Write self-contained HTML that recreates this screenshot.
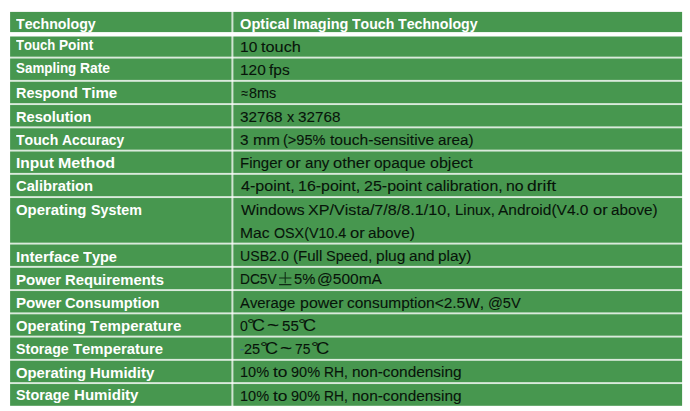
<!DOCTYPE html>
<html><head><meta charset="utf-8"><title>Specifications</title>
<style>
html,body{margin:0;padding:0;background:#fff;}
body{width:690px;height:411px;overflow:hidden;position:relative;font-family:"Liberation Sans",sans-serif;font-kerning:none;}
#grid{position:absolute;left:0;top:0;}
.c{position:absolute;left:0;top:0;margin:0;}
.w{position:absolute;white-space:nowrap;line-height:1;transform-origin:0 0;display:block;font-family:"Liberation Sans",sans-serif;font-weight:normal;-webkit-text-stroke:0.1px currentColor;}
.b .w{font-weight:bold;-webkit-text-stroke:0;}
</style></head><body>

<svg id="grid" width="690" height="411" viewBox="0 0 690 411">
<rect x="10.1" y="11.9" width="672" height="393.9" fill="#47974f"/>
<rect x="10" y="32.1" width="673" height="4.4" fill="#fff"/>
<rect x="10" y="56.65" width="673" height="1.9" fill="#fff" fill-opacity="0.8"/>
<rect x="10" y="79.90" width="673" height="1.9" fill="#fff" fill-opacity="0.8"/>
<rect x="10" y="103.15" width="673" height="1.9" fill="#fff" fill-opacity="0.8"/>
<rect x="10" y="126.40" width="673" height="1.9" fill="#fff" fill-opacity="0.8"/>
<rect x="10" y="149.65" width="673" height="1.9" fill="#fff" fill-opacity="0.8"/>
<rect x="10" y="172.90" width="673" height="1.9" fill="#fff" fill-opacity="0.8"/>
<rect x="10" y="196.15" width="673" height="1.9" fill="#fff" fill-opacity="0.8"/>
<rect x="10" y="242.65" width="673" height="1.9" fill="#fff" fill-opacity="0.8"/>
<rect x="10" y="265.90" width="673" height="1.9" fill="#fff" fill-opacity="0.8"/>
<rect x="10" y="289.15" width="673" height="1.9" fill="#fff" fill-opacity="0.8"/>
<rect x="10" y="312.40" width="673" height="1.9" fill="#fff" fill-opacity="0.8"/>
<rect x="10" y="335.65" width="673" height="1.9" fill="#fff" fill-opacity="0.8"/>
<rect x="10" y="358.90" width="673" height="1.9" fill="#fff" fill-opacity="0.8"/>
<rect x="10" y="382.15" width="673" height="1.9" fill="#fff" fill-opacity="0.8"/>
<rect x="231.4" y="11" width="2.0" height="396" fill="#fff" fill-opacity="0.74"/>
<g stroke="#0f2a14" stroke-width="1.05" fill="none"><path d="M279.1 277.9H291.4M285.2 272.0V283.3M279.1 284.6H291.4"/></g>
</svg>
<div class="c b"><span id="L0_0" class="w" style="left:16.27px;top:16px;font-size:15.30px;color:#fff;transform:scaleX(0.9286)">Technology</span></div>
<div class="c b"><span id="V0_0" class="w" style="left:239.85px;top:16px;font-size:15.30px;color:#fff;transform:scaleX(0.9563)">Optical</span><span id="V0_1" class="w" style="left:293.22px;top:16px;font-size:15.30px;color:#fff;transform:scaleX(0.9430)">Imaging</span><span id="V0_2" class="w" style="left:352.31px;top:16px;font-size:15.30px;color:#fff;transform:scaleX(0.9207)">Touch</span><span id="V0_3" class="w" style="left:398.34px;top:16px;font-size:15.30px;color:#fff;transform:scaleX(0.9278)">Technology</span></div>
<div class="c b"><span id="L1_0" class="w" style="left:16.27px;top:38px;font-size:14.10px;color:#fff;transform:scaleX(0.9284)">Touch</span><span id="L1_1" class="w" style="left:59.04px;top:38px;font-size:14.10px;color:#fff;transform:scaleX(0.9707)">Point</span></div>
<div class="c"><span id="V1_0" class="w" style="left:239.91px;top:40px;font-size:14.70px;color:#07140a;transform:scaleX(1.0585)">10</span><span id="V1_1" class="w" style="left:261.06px;top:40px;font-size:14.70px;color:#07140a;transform:scaleX(1.1085)">touch</span></div>
<div class="c b"><span id="L2_0" class="w" style="left:16.17px;top:61px;font-size:14.10px;color:#fff;transform:scaleX(0.9501)">Sampling</span><span id="L2_1" class="w" style="left:80.01px;top:61px;font-size:14.10px;color:#fff;transform:scaleX(0.9845)">Rate</span></div>
<div class="c"><span id="V2_0" class="w" style="left:239.92px;top:63px;font-size:14.70px;color:#07140a;transform:scaleX(1.0501)">120</span><span id="V2_1" class="w" style="left:269.49px;top:63px;font-size:14.70px;color:#07140a;transform:scaleX(1.0547)">fps</span></div>
<div class="c b"><span id="L3_0" class="w" style="left:15.92px;top:85px;font-size:15.30px;color:#fff;transform:scaleX(0.9454)">Respond</span><span id="L3_1" class="w" style="left:81.67px;top:85px;font-size:15.30px;color:#fff;transform:scaleX(0.9865)">Time</span></div>
<div class="c"><span id="V3_0" class="w" style="left:240.88px;top:86px;font-size:14.70px;color:#07140a;transform:scaleX(0.8473)">≈</span><span id="V3_1" class="w" style="left:248.62px;top:86px;font-size:14.70px;color:#07140a;transform:scaleX(0.9816)">8ms</span></div>
<div class="c b"><span id="L4_0" class="w" style="left:15.89px;top:109px;font-size:15.10px;color:#fff;transform:scaleX(0.9685)">Resolution</span></div>
<div class="c"><span id="V4_0" class="w" style="left:240.23px;top:110px;font-size:14.70px;color:#07140a;transform:scaleX(1.0401)">32768</span><span id="V4_1" class="w" style="left:286.50px;top:110px;font-size:14.70px;color:#07140a;transform:scaleX(0.9881)">x</span><span id="V4_2" class="w" style="left:297.55px;top:110px;font-size:14.70px;color:#07140a;transform:scaleX(1.0401)">32768</span></div>
<div class="c b"><span id="L5_0" class="w" style="left:16.27px;top:132px;font-size:15.10px;color:#fff;transform:scaleX(0.9332)">Touch</span><span id="L5_1" class="w" style="left:62.31px;top:132px;font-size:15.10px;color:#fff;transform:scaleX(0.9159)">Accuracy</span></div>
<div class="c"><span id="V5_0" class="w" style="left:240.23px;top:133px;font-size:14.70px;color:#07140a;transform:scaleX(1.0438)">3</span><span id="V5_1" class="w" style="left:252.56px;top:133px;font-size:14.70px;color:#07140a;transform:scaleX(1.0980)">mm</span><span id="V5_2" class="w" style="left:283.25px;top:133px;font-size:14.70px;color:#07140a;transform:scaleX(0.9928)">(&gt;95%</span><span id="V5_3" class="w" style="left:329.62px;top:133px;font-size:14.70px;color:#07140a;transform:scaleX(1.0628)">touch-sensitive</span><span id="V5_4" class="w" style="left:437.54px;top:133px;font-size:14.70px;color:#07140a;transform:scaleX(1.0341)">area)</span></div>
<div class="c b"><span id="L6_0" class="w" style="left:15.82px;top:155px;font-size:15.10px;color:#fff;transform:scaleX(1.0302)">Input</span><span id="L6_1" class="w" style="left:57.68px;top:155px;font-size:15.10px;color:#fff;transform:scaleX(1.0619)">Method</span></div>
<div class="c"><span id="V6_0" class="w" style="left:239.99px;top:156px;font-size:14.70px;color:#07140a;transform:scaleX(1.0204)">Finger</span><span id="V6_1" class="w" style="left:286.27px;top:156px;font-size:14.70px;color:#07140a;transform:scaleX(1.1259)">or</span><span id="V6_2" class="w" style="left:304.77px;top:156px;font-size:14.70px;color:#07140a;transform:scaleX(1.0326)">any</span><span id="V6_3" class="w" style="left:333.03px;top:156px;font-size:14.70px;color:#07140a;transform:scaleX(1.1201)">other</span><span id="V6_4" class="w" style="left:374.33px;top:156px;font-size:14.70px;color:#07140a;transform:scaleX(1.0546)">opaque</span><span id="V6_5" class="w" style="left:429.81px;top:156px;font-size:14.70px;color:#07140a;transform:scaleX(1.0907)">object</span></div>
<div class="c b"><span id="L7_0" class="w" style="left:16.35px;top:178px;font-size:15.10px;color:#fff;transform:scaleX(0.9773)">Calibration</span></div>
<div class="c"><span id="V7_0" class="w" style="left:240.58px;top:179px;font-size:14.70px;color:#07140a;transform:scaleX(1.0945)">4-point,</span><span id="V7_1" class="w" style="left:297.99px;top:179px;font-size:14.70px;color:#07140a;transform:scaleX(1.0865)">16-point,</span><span id="V7_2" class="w" style="left:363.89px;top:179px;font-size:14.70px;color:#07140a;transform:scaleX(1.0915)">25-point</span><span id="V7_3" class="w" style="left:425.61px;top:179px;font-size:14.70px;color:#07140a;transform:scaleX(1.0791)">calibration,</span><span id="V7_4" class="w" style="left:506.04px;top:179px;font-size:14.70px;color:#07140a;transform:scaleX(1.0775)">no</span><span id="V7_5" class="w" style="left:527.44px;top:179px;font-size:14.70px;color:#07140a;transform:scaleX(1.1916)">drift</span></div>
<div class="c b"><span id="L8_0" class="w" style="left:16.33px;top:202px;font-size:15.10px;color:#fff;transform:scaleX(0.9884)">Operating</span><span id="L8_1" class="w" style="left:90.61px;top:202px;font-size:15.10px;color:#fff;transform:scaleX(0.9471)">System</span></div>
<div class="c"><span id="V8_0" class="w" style="left:240.69px;top:203px;font-size:14.70px;color:#07140a;transform:scaleX(1.0693)">Windows</span><span id="V8_1" class="w" style="left:308.20px;top:203px;font-size:14.70px;color:#07140a;transform:scaleX(1.0988)">XP/Vista/7/8/8.1/10,</span><span id="V8_2" class="w" style="left:454.64px;top:203px;font-size:14.70px;color:#07140a;transform:scaleX(1.0184)">Linux,</span><span id="V8_3" class="w" style="left:498.36px;top:203px;font-size:14.70px;color:#07140a;transform:scaleX(1.0547)">Android(V4.0</span><span id="V8_4" class="w" style="left:592.57px;top:203px;font-size:14.70px;color:#07140a;transform:scaleX(1.1240)">or</span><span id="V8_5" class="w" style="left:611.04px;top:203px;font-size:14.70px;color:#07140a;transform:scaleX(1.0388)">above)</span></div>
<div class="c"><span id="V9_0" class="w" style="left:240.13px;top:226px;font-size:14.70px;color:#07140a;transform:scaleX(1.0669)">Mac</span><span id="V9_1" class="w" style="left:273.54px;top:226px;font-size:14.70px;color:#07140a;transform:scaleX(0.9714)">OSX(V10.4</span><span id="V9_2" class="w" style="left:349.53px;top:226px;font-size:14.70px;color:#07140a;transform:scaleX(1.1301)">or</span><span id="V9_3" class="w" style="left:368.10px;top:226px;font-size:14.70px;color:#07140a;transform:scaleX(1.0443)">above)</span></div>
<div class="c b"><span id="L10_0" class="w" style="left:15.85px;top:249px;font-size:15.10px;color:#fff;transform:scaleX(1.0049)">Interface</span><span id="L10_1" class="w" style="left:82.90px;top:249px;font-size:15.10px;color:#fff;transform:scaleX(0.9640)">Type</span></div>
<div class="c"><span id="V10_0" class="w" style="left:240.30px;top:249px;font-size:14.70px;color:#07140a;transform:scaleX(0.9641)">USB2.0</span><span id="V10_1" class="w" style="left:292.90px;top:249px;font-size:14.70px;color:#07140a;transform:scaleX(1.0243)">(Full</span><span id="V10_2" class="w" style="left:325.95px;top:249px;font-size:14.70px;color:#07140a;transform:scaleX(0.9920)">Speed,</span><span id="V10_3" class="w" style="left:375.93px;top:249px;font-size:14.70px;color:#07140a;transform:scaleX(1.0562)">plug</span><span id="V10_4" class="w" style="left:409.06px;top:249px;font-size:14.70px;color:#07140a;transform:scaleX(1.0457)">and</span><span id="V10_5" class="w" style="left:438.48px;top:249px;font-size:14.70px;color:#07140a;transform:scaleX(1.0473)">play)</span></div>
<div class="c b"><span id="L11_0" class="w" style="left:15.86px;top:272px;font-size:15.10px;color:#fff;transform:scaleX(0.9988)">Power</span><span id="L11_1" class="w" style="left:64.92px;top:272px;font-size:15.10px;color:#fff;transform:scaleX(0.9825)">Requirements</span></div>
<div class="c"><span id="V11_0" class="w" style="left:240.20px;top:272px;font-size:14.70px;color:#07140a;transform:scaleX(0.9359)">DC5V</span><span id="V11_1" class="w" style="left:293.69px;top:272px;font-size:14.70px;color:#07140a;transform:scaleX(1.0037)">5%</span><span id="V11_2" class="w" style="left:317.10px;top:272px;font-size:14.70px;color:#07140a;transform:scaleX(1.0568)">@500mA</span></div>
<div class="c b"><span id="L12_0" class="w" style="left:15.85px;top:295px;font-size:15.10px;color:#fff;transform:scaleX(1.0041)">Power</span><span id="L12_1" class="w" style="left:65.18px;top:295px;font-size:15.10px;color:#fff;transform:scaleX(0.9724)">Consumption</span></div>
<div class="c"><span id="V12_0" class="w" style="left:240.48px;top:296px;font-size:14.70px;color:#07140a;transform:scaleX(1.0121)">Average</span><span id="V12_1" class="w" style="left:299.62px;top:296px;font-size:14.70px;color:#07140a;transform:scaleX(1.0877)">power</span><span id="V12_2" class="w" style="left:346.91px;top:296px;font-size:14.70px;color:#07140a;transform:scaleX(1.0530)">consumption&lt;2.5W,</span><span id="V12_3" class="w" style="left:487.80px;top:296px;font-size:14.70px;color:#07140a;transform:scaleX(0.9968)">@5V</span></div>
<div class="c b"><span id="L13_0" class="w" style="left:16.33px;top:318px;font-size:15.10px;color:#fff;transform:scaleX(0.9806)">Operating</span><span id="L13_1" class="w" style="left:90.03px;top:318px;font-size:15.10px;color:#fff;transform:scaleX(0.9981)">Temperature</span></div>
<div class="c"><span id="V13_0" class="w" style="left:240.20px;top:319px;font-size:14.70px;color:#07140a;transform:scaleX(0.9561)">0</span><span id="V13_1" class="w" style="left:247.10px;top:317px;font-size:14.00px;color:#07140a;transform:scaleX(1.3926)">°</span><span id="V13_2" class="w" style="left:252.02px;top:317px;font-size:16.40px;color:#07140a;transform:scaleX(1.0936)">C</span><span id="V13_3" class="w" style="left:267.49px;top:317px;font-size:17.50px;color:#07140a;transform:scaleX(1.1887)">~</span><span id="V13_4" class="w" style="left:281.66px;top:319px;font-size:14.70px;color:#07140a;transform:scaleX(1.0284)">55</span><span id="V13_5" class="w" style="left:297.66px;top:317px;font-size:14.00px;color:#07140a;transform:scaleX(1.4235)">°</span><span id="V13_6" class="w" style="left:303.01px;top:317px;font-size:16.40px;color:#07140a;transform:scaleX(1.1038)">C</span></div>
<div class="c b"><span id="L14_0" class="w" style="left:16.35px;top:341px;font-size:15.10px;color:#fff;transform:scaleX(0.9385)">Storage</span><span id="L14_1" class="w" style="left:72.84px;top:341px;font-size:15.10px;color:#fff;transform:scaleX(0.9859)">Temperature</span></div>
<div class="c"><span id="V14_0" class="w" style="left:240.34px;top:342px;font-size:14.70px;color:#3f6f8a;transform:scaleX(0.8446)">-</span><span id="V14_1" class="w" style="left:244.17px;top:342px;font-size:14.70px;color:#07140a;transform:scaleX(0.9895)">25</span><span id="V14_2" class="w" style="left:259.60px;top:340px;font-size:14.00px;color:#07140a;transform:scaleX(1.3926)">°</span><span id="V14_3" class="w" style="left:264.81px;top:340px;font-size:16.40px;color:#07140a;transform:scaleX(1.1038)">C</span><span id="V14_4" class="w" style="left:280.29px;top:340px;font-size:17.50px;color:#07140a;transform:scaleX(1.1887)">~</span><span id="V14_5" class="w" style="left:295.30px;top:342px;font-size:14.70px;color:#07140a;transform:scaleX(0.9437)">75</span><span id="V14_6" class="w" style="left:310.60px;top:340px;font-size:14.00px;color:#07140a;transform:scaleX(1.3926)">°</span><span id="V14_7" class="w" style="left:315.59px;top:340px;font-size:16.40px;color:#07140a;transform:scaleX(1.1242)">C</span></div>
<div class="c b"><span id="L15_0" class="w" style="left:16.33px;top:365px;font-size:15.10px;color:#fff;transform:scaleX(0.9823)">Operating</span><span id="L15_1" class="w" style="left:90.16px;top:365px;font-size:15.10px;color:#fff;transform:scaleX(0.9966)">Humidity</span></div>
<div class="c"><span id="V15_0" class="w" style="left:240.09px;top:365px;font-size:14.70px;color:#07140a;transform:scaleX(0.9881)">10%</span><span id="V15_1" class="w" style="left:272.95px;top:365px;font-size:14.70px;color:#07140a;transform:scaleX(1.1825)">to</span><span id="V15_2" class="w" style="left:291.23px;top:365px;font-size:14.70px;color:#07140a;transform:scaleX(0.9881)">90%</span><span id="V15_3" class="w" style="left:324.08px;top:365px;font-size:14.70px;color:#07140a;transform:scaleX(0.9406)">RH,</span><span id="V15_4" class="w" style="left:351.68px;top:365px;font-size:14.70px;color:#07140a;transform:scaleX(1.0485)">non-condensing</span></div>
<div class="c b"><span id="L16_0" class="w" style="left:16.34px;top:387px;font-size:15.10px;color:#fff;transform:scaleX(0.9536)">Storage</span><span id="L16_1" class="w" style="left:73.74px;top:387px;font-size:15.10px;color:#fff;transform:scaleX(0.9985)">Humidity</span></div>
<div class="c"><span id="V16_0" class="w" style="left:240.09px;top:389px;font-size:14.70px;color:#07140a;transform:scaleX(0.9881)">10%</span><span id="V16_1" class="w" style="left:272.95px;top:389px;font-size:14.70px;color:#07140a;transform:scaleX(1.1825)">to</span><span id="V16_2" class="w" style="left:291.23px;top:389px;font-size:14.70px;color:#07140a;transform:scaleX(0.9881)">90%</span><span id="V16_3" class="w" style="left:324.08px;top:389px;font-size:14.70px;color:#07140a;transform:scaleX(0.9406)">RH,</span><span id="V16_4" class="w" style="left:351.68px;top:389px;font-size:14.70px;color:#07140a;transform:scaleX(1.0485)">non-condensing</span></div>
</body></html>
